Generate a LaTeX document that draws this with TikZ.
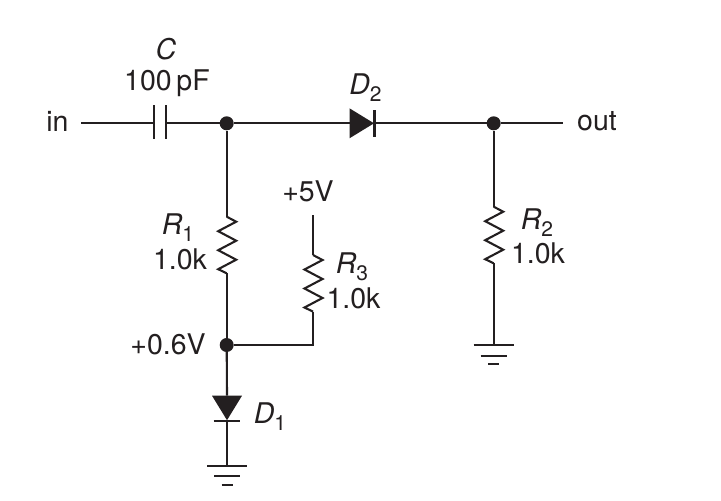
\documentclass[tikz,border=0pt]{standalone}
\usepackage{fontspec}
\setmainfont{TeX Gyre Heros}
\usetikzlibrary{calc}
\usetikzlibrary{positioning}

\definecolor{inkblack}{HTML}{231F20}
\newcommand{\subidx}[1]{\raisebox{-7pt}{\fontsize{21}{23}\selectfont\upshape #1}}

\tikzset{
  wire/.style={draw=inkblack, line width=2.1pt},
  dot/.style={circle, fill=inkblack, inner sep=0pt, minimum size=14pt},
  lbl/.style={text=inkblack, inner sep=0pt, font=\fontsize{28.5}{31}\selectfont},
  resistorpic/.pic={
    \draw[wire, line join=miter] (0,0) coordinate (-top) -- (9.5,5) -- (-8.5,14.5) -- (9.5,24) -- (-8.5,33.5)
      -- (9.5,43) -- (-8.5,52.5) coordinate (-low) -- (0,56.6) coordinate (-bot);
  },
  diodepic/.pic={
    \fill[inkblack] (-15,0) coordinate (-top) -- (15,0) -- (0,24.5) -- cycle;
    \coordinate (-in) at (0,0);
    \coordinate (-out) at (0,25);
    \draw[wire] (-13.3,25) -- (13.3,25);
  },
  groundpic/.pic={
    \coordinate (-top) at (0,0);
    \draw[wire] (-20,0) -- (20,0);
    \draw[wire] (-13,10.6) -- (13,10.6);
    \draw[wire] (-5.5,19.3) -- (5.5,19.3);
  }
}

\begin{document}
\begin{tikzpicture}[x=1pt,y=-1pt]
    \useasboundingbox (0,0) rectangle (721,501);

    % junctions
    \node[dot] (jin) at (226.7,123.3) {};
    \node[dot] (jout) at (493.7,123.3) {};
    \node[dot] (jmid) at (226.7,345) {};

    % free ends
    \coordinate (inend) at (81,123.3);
    \coordinate (outend) at (563,123.3);
    \coordinate (vcc) at (313,215);
    \coordinate (platea) at (154,123.3);
    \coordinate (plateb) at (166,123.3);

    % parts
    \pic (rone) at (226.7,216.7) {resistorpic};
    \pic (rtwo) at (493.7,206.7) {resistorpic};
    \pic (rthree) at (313,255) {resistorpic};
    \pic (done) at (227,395.7) {diodepic};
    \pic[rotate=90] (dtwo) at (349.5,123.3) {diodepic};
    \pic (gndone) at (227,465.7) {groundpic};
    \pic (gndtwo) at (493.7,345) {groundpic};

    % capacitor
    \draw[wire] ($(platea)+(0,-18.3)$) -- ($(platea)+(0,15.7)$);
    \draw[wire] ($(plateb)+(0,-18.3)$) -- ($(plateb)+(0,15.7)$);

    % connectors
    \draw[wire] (inend) -- (platea);
    \draw[wire] (plateb) -- (jin);
    \draw[wire] (jin) -- (dtwo-in);
    \draw[wire] (dtwo-out) -- (jout);
    \draw[wire] (jout) -- (outend);
    \draw[wire] (jin) -- (rone-top);
    \draw[wire] (rone-bot) -- (jmid);
    \draw[wire] (jmid) -- (done-in);
    \draw[wire] (done-out) -- (gndone-top);
    \draw[wire] (jout) -- (rtwo-top);
    \draw[wire] (rtwo-bot) -- (gndtwo-top);
    \draw[wire] (vcc) -- (rthree-top);
    \draw[wire] (rthree-bot) |- (jmid);

    % labels
    \node[lbl] (lin) at (57.5,121.5) {in};
    \node[lbl] (lout) at (597,121.5) {out};
    \node[lbl] (lc) at (166,49.5) {\itshape C};
    \node[lbl] (lcval) at (167,83.5) {100\,pF};
    \node[lbl] (ldtwo) at (365.5,88) {\textit{D}\subidx{2}};
    \node[lbl] (ldone) at (270,416.5) {\textit{D}\subidx{1}};
    \node[lbl] (lrone) at (178,227.5) {\textit{R}\subidx{1}};
    \node[lbl] (lroneval) at (180,259.5) {1.0k};
    \node[lbl] (lrtwo) at (537,222.5) {\textit{R}\subidx{2}};
    \node[lbl] (lrtwoval) at (538,253) {1.0k};
    \node[lbl] (lrthree) at (352,266.5) {\textit{R}\subidx{3}};
    \node[lbl] (lrthreeval) at (353.5,298.5) {1.0k};
    \node[lbl] (lvcc) at (308,191) {+5V};
    \node[lbl] (lmid) at (168,344) {+0.6V};
  \end{tikzpicture}
\end{document}
